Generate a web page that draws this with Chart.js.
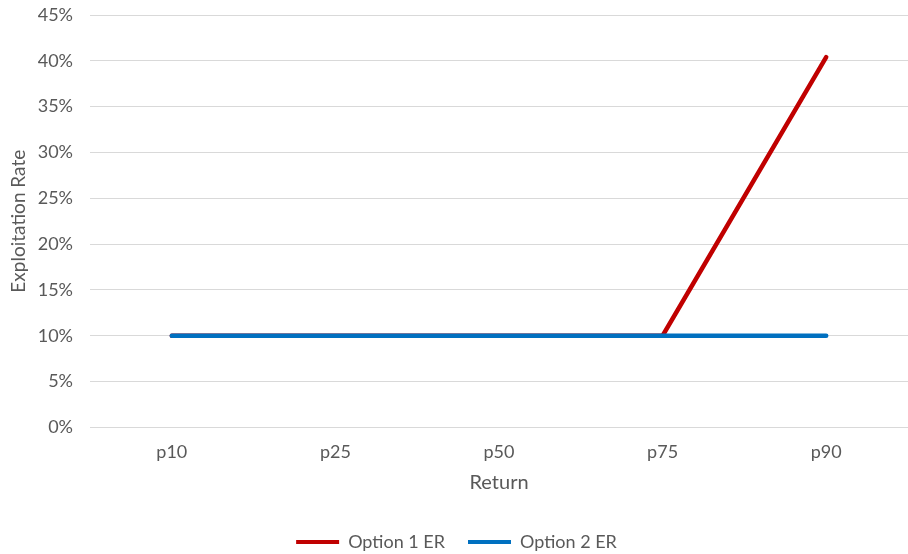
<!DOCTYPE html>
<html>
<head>
<meta charset="utf-8">
<script src="https://cdn.jsdelivr.net/npm/chart.js@4/dist/chart.umd.min.js"></script>
<style>
  html, body { margin: 0; padding: 0; background: #fff; }
  #wrap { width: 908px; height: 554px; position: relative; }
</style>
</head>
<body>
<div id="wrap"><canvas id="c"></canvas></div>
<script>
const categories = ['p10', 'p25', 'p50', 'p75', 'p90'];
const option1ER = [10, 10, 10, 10, 40.4];
const option2ER = [10, 10, 10, 10, 10];
const yTicks = [0, 5, 10, 15, 20, 25, 30, 35, 40, 45];

const FONT = "Lato, 'Open Sans', sans-serif";
const GREY = '#595959';

new Chart(document.getElementById('c'), {
  type: 'line',
  data: {
    labels: categories,
    datasets: [
      {
        label: 'Option 1 ER',
        data: option1ER,
        borderColor: '#C00000',
        backgroundColor: '#C00000',
        borderWidth: 4.5,
        borderCapStyle: 'round',
        pointRadius: 0,
        tension: 0,
        order: 2
      },
      {
        label: 'Option 2 ER',
        data: option2ER,
        borderColor: '#0070C0',
        backgroundColor: '#0070C0',
        borderWidth: 4.5,
        borderCapStyle: 'round',
        pointRadius: 0,
        tension: 0,
        order: 1
      }
    ]
  },
  options: {
    responsive: true,
    maintainAspectRatio: false,
    animation: false,
    layout: { padding: { left: 0, right: -5, top: 15, bottom: -7 } },
    plugins: {
      tooltip: { enabled: false },
      legend: {
        position: 'bottom',
        labels: {
          font: { family: FONT, size: 18 },
          color: GREY,
          boxWidth: 43,
          boxHeight: 4,
          padding: 23,
          generateLabels(chart) {
            return chart.data.datasets.map((ds, i) => ({
              text: ds.label,
              fillStyle: ds.borderColor,
              strokeStyle: ds.borderColor,
              lineWidth: 0,
              fontColor: GREY,
              datasetIndex: i
            }));
          }
        }
      }
    },
    scales: {
      x: {
        offset: true,
        grid: { display: false, drawTicks: false },
        border: { display: true, color: '#d9d9d9', width: 1 },
        ticks: { font: { family: FONT, size: 18 }, color: GREY, padding: 14 },
        title: {
          display: true,
          text: 'Return',
          font: { family: FONT, size: 20 },
          color: GREY,
          padding: { top: -6, bottom: 15 }
        }
      },
      y: {
        min: 0,
        max: 45,
        afterBuildTicks(scale) {
          scale.ticks = yTicks.map(v => ({ value: v }));
        },
        afterFit(scale) {
          scale.paddingTop = 0;
          scale.paddingBottom = 0;
          scale.width = 90;
        },
        grid: { color: '#d9d9d9', lineWidth: 1, drawTicks: false },
        border: { display: false },
        ticks: {
          font: { family: FONT, size: 18 },
          color: GREY,
          padding: 17,
          callback: v => v + '%'
        },
        title: {
          display: true,
          text: 'Exploitation Rate',
          font: { family: FONT, size: 19 },
          color: GREY,
          padding: { top: 7, bottom: 6 }
        }
      }
    }
  }
});
</script>
</body>
</html>
